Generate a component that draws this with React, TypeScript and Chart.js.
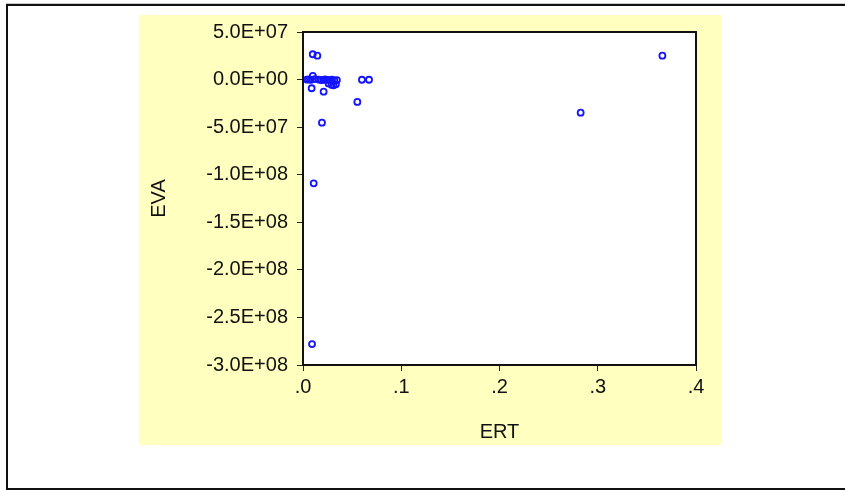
import React, { useEffect, useRef } from "react";
import { Chart, registerables } from "chart.js";

Chart.register(...registerables);

const ertValues = [
  0.0099, 0.0146, 0.004, 0.006, 0.008, 0.01, 0.012, 0.016, 0.0185, 0.0205,
  0.0225, 0.025, 0.027, 0.0295, 0.032, 0.0345, 0.026, 0.029, 0.031, 0.0335,
  0.0600, 0.0672, 0.0088, 0.021, 0.0553, 0.0193, 0.0109, 0.0092, 0.2826, 0.3658,
];
const evaValues = [
  2.66e7, 2.51e7, 0, 0.2e6, -0.3e6, 3.8e6, 0.5e6, 0, -0.5e6, -0.3e6,
  0.2e6, -0.4e6, -0.8e6, -0.2e6, -1.0e6, -0.5e6, -4.0e6, -5.5e6, -6.0e6, -5.0e6,
  -0.2e6, -0.2e6, -9.1e6, -1.27e7, -2.35e7, -4.53e7, -1.09e8, -2.78e8, -3.48e7, 2.51e7,
];

const xTickValues = [0, 0.1, 0.2, 0.3, 0.4];
const xTickLabels = [".0", ".1", ".2", ".3", ".4"];
const yTickValues = [5e7, 0, -5e7, -1e8, -1.5e8, -2e8, -2.5e8, -3e8];
const yTickLabels = [
  "5.0E+07", "0.0E+00", "-5.0E+07", "-1.0E+08", "-1.5E+08", "-2.0E+08", "-2.5E+08", "-3.0E+08",
];
const xTitle = "ERT";
const yTitle = "EVA";

const FONT = "'Liberation Sans', Arial, sans-serif";
const TEXT = "#111111";

const framePlugin = {
  id: "framePlugin",
  beforeDraw(chart: any) {
    const ctx = chart.ctx;
    const a = chart.chartArea;
    ctx.save();
    ctx.fillStyle = "#ffffff";
    ctx.fillRect(0, 0, chart.width, chart.height);
    ctx.fillStyle = "#FFFFC0";
    ctx.fillRect(139, 15, 582, 430);
    ctx.fillStyle = "#ffffff";
    ctx.fillRect(a.left, a.top, a.right - a.left, a.bottom - a.top);
    ctx.fillStyle = "#c8c8c8";
    ctx.fillRect(6, 3, chart.width - 6, 1);
    ctx.fillStyle = "#111111";
    ctx.fillRect(6, 4, chart.width - 6, 2);
    ctx.fillRect(6, 4, 2, chart.height - 4);
    ctx.fillRect(6, 488, chart.width - 6, 2);
    ctx.restore();
  },
  afterDraw(chart: any) {
    const ctx = chart.ctx;
    const a = chart.chartArea;
    ctx.save();
    ctx.strokeStyle = "#111111";
    ctx.lineWidth = 2;
    ctx.strokeRect(a.left, a.top, a.right - a.left, a.bottom - a.top);
    ctx.restore();
  },
};

export default function App() {
  const ref = useRef<HTMLCanvasElement | null>(null);

  useEffect(() => {
    document.body.style.margin = "0";
    const canvas = ref.current;
    if (!canvas) return;
    const points = ertValues.map((x, i) => ({ x, y: evaValues[i] }));
    const chart = new Chart(canvas, {
      type: "scatter",
      data: {
        datasets: [
          {
            data: points,
            borderColor: "rgb(20,20,255)",
            backgroundColor: "rgba(0,0,0,0)",
            borderWidth: 1.8,
            pointRadius: 3,
            pointHoverRadius: 3,
            pointStyle: "circle",
          },
        ],
      },
      options: {
        animation: false,
        responsive: false,
        devicePixelRatio: 1,
        events: [],
        layout: { padding: { left: 139, top: 32, right: 149, bottom: 45 } },
        plugins: {
          legend: { display: false },
          tooltip: { enabled: false },
          title: { display: false },
        },
        scales: {
          x: {
            type: "linear",
            position: "bottom",
            min: 0,
            max: 0.4,
            afterBuildTicks: (s: any) => {
              s.ticks = xTickValues.map((v) => ({ value: v }));
            },
            afterFit: (s: any) => {
              s.height = 80;
            },
            ticks: {
              autoSkip: false,
              maxRotation: 0,
              padding: 4,
              color: TEXT,
              font: { family: FONT, size: 20 },
              callback: (_v: any, i: number) => xTickLabels[i],
            },
            grid: {
              drawOnChartArea: false,
              drawTicks: true,
              tickLength: 6,
              color: "#222222",
            },
            border: { display: false },
            title: {
              display: true,
              text: xTitle,
              color: TEXT,
              font: { family: FONT, size: 20 },
              padding: { top: 0, bottom: 1 },
            },
          },
          y: {
            type: "linear",
            position: "left",
            min: -3e8,
            max: 5e7,
            afterBuildTicks: (s: any) => {
              s.ticks = yTickValues.map((v) => ({ value: v }));
            },
            afterFit: (s: any) => {
              s.width = 164;
            },
            ticks: {
              autoSkip: false,
              padding: 9,
              color: TEXT,
              font: { family: FONT, size: 20 },
              callback: (_v: any, i: number) => yTickLabels[i],
            },
            grid: {
              drawOnChartArea: false,
              drawTicks: true,
              tickLength: 6,
              color: "#222222",
            },
            border: { display: false },
            title: {
              display: true,
              text: yTitle,
              color: TEXT,
              font: { family: FONT, size: 20 },
              padding: { top: 8, bottom: 0 },
            },
          },
        },
      },
      plugins: [framePlugin],
    } as any);
    return () => chart.destroy();
  }, []);

  return (
    <div style={{ width: 845, height: 490 }}>
      <canvas ref={ref} width={845} height={490} style={{ display: "block", width: 845, height: 490 }} />
    </div>
  );
}
